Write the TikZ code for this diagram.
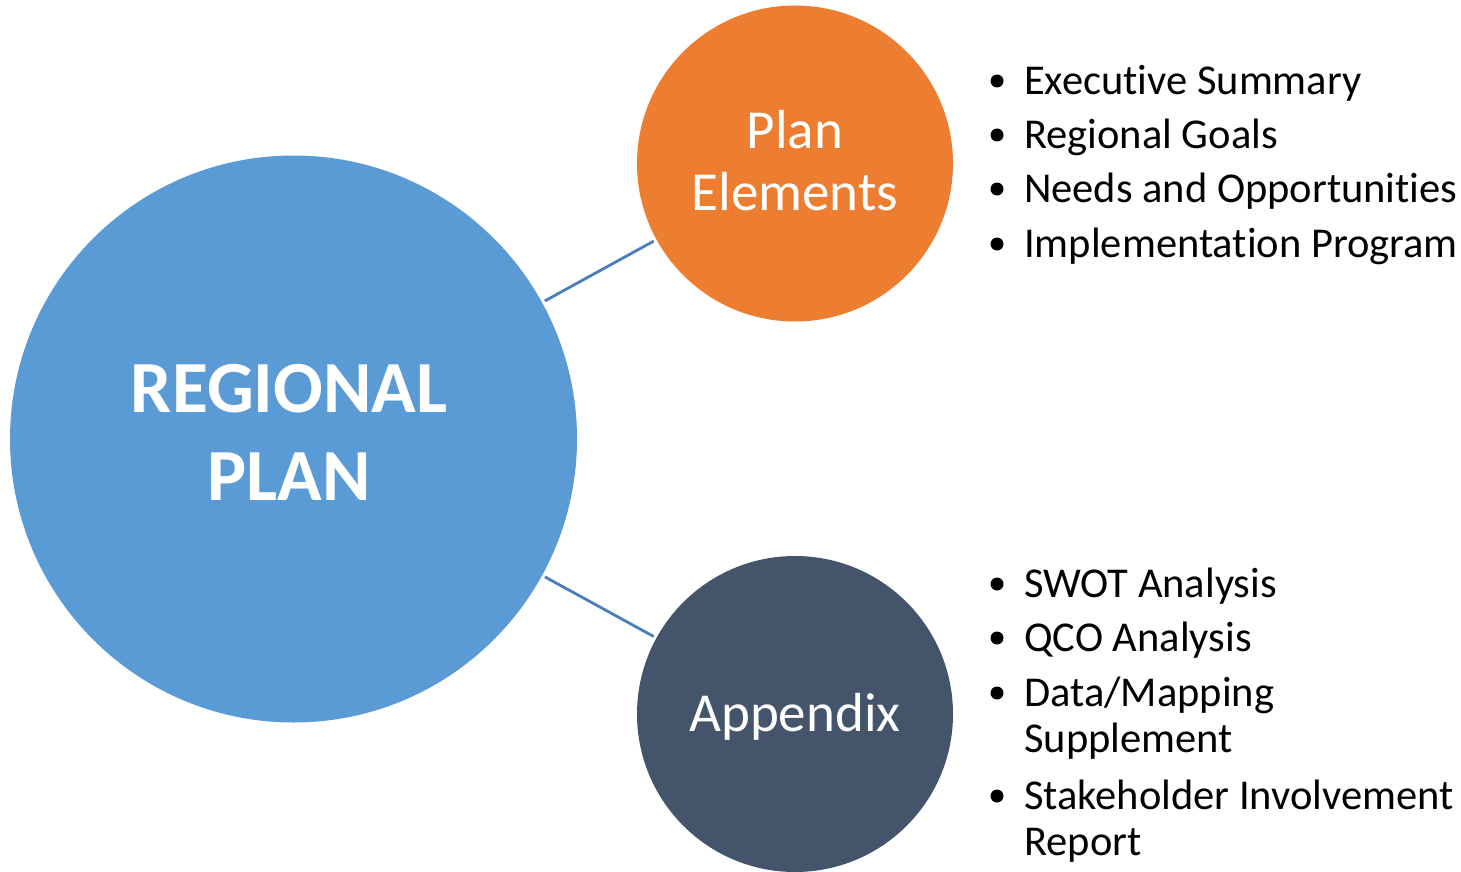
\documentclass[tikz,border=0pt]{standalone}
\usepackage{fontspec}
\setmainfont{Carlito}[Ligatures={NoCommon}]
\newcommand{\tiz}{t\kern0pt i}
\definecolor{cblue}{HTML}{5B9BD5}
\definecolor{corange}{HTML}{ED7D31}
\definecolor{cdark}{HTML}{44546A}
\definecolor{cline}{HTML}{4A7EBB}
\begin{document}
\begin{tikzpicture}[x=1pt,y=-1pt,
  bubble/.style={circle,inner sep=0pt,draw=none},
  bigtxt/.style={anchor=base,text=white,font=\fontsize{73.5}{88}\selectfont\bfseries,inner sep=0pt},
  midtxt/.style={anchor=base,text=white,font=\fontsize{55}{61}\selectfont,inner sep=0pt},
  itemtxt/.style={anchor=base west,text=black,font=\fontsize{42.5}{47}\selectfont,inner sep=0pt},
  bul/.style={circle,fill=black,inner sep=0pt,minimum size=13pt},
  link/.style={draw=cline,line width=2.8pt,shorten <=3pt,shorten >=3pt}]
\useasboundingbox (0,0) rectangle (1461,872);
\node[bubble,fill=cblue,minimum size=567pt] (rp) at (293.5,439) {};
\node[bubble,fill=corange,minimum size=316pt] (pe) at (795,163.5) {};
\node[bubble,fill=cdark,minimum size=316pt] (ap) at (795,714) {};
\draw[link] (rp) -- (pe);
\draw[link] (rp) -- (ap);
\node[bigtxt] (t1) at (289,412) {REGIONAL};
\node[bigtxt] (t2) at (289,500) {PLAN};
\node[midtxt] (t3) at (795,149) {Plan};
\node[midtxt] (t4) at (795,210) {Elements};
\node[midtxt] (t5) at (795,731) {Appendix};
% top list
\node[bul] (b1) at (997,81) {};
\node[itemtxt] (i1) at (1024,94.5) {Execu\tiz ve Summary};
\node[bul] (b2) at (997,135) {};
\node[itemtxt] (i2) at (1024,148.5) {Regional Goals};
\node[bul] (b3) at (997,189) {};
\node[itemtxt] (i3) at (1024,202.5) {Needs and Opportuni\tiz es};
\node[bul] (b4) at (997,244) {};
\node[itemtxt] (i4) at (1024,257.5) {Implementa\tiz on Program};
% bottom list
\node[bul] (b5) at (997,584) {};
\node[itemtxt] (i5) at (1024,597.5) {SWOT Analysis};
\node[bul] (b6) at (997,638) {};
\node[itemtxt] (i6) at (1024,651.5) {QCO Analysis};
\node[bul] (b7) at (997,693) {};
\node[itemtxt] (i7) at (1024,706.5) {Data/Mapping};
\node[itemtxt] (i7b) at (1024,752.5) {Supplement};
\node[bul] (b8) at (997,796) {};
\node[itemtxt] (i8) at (1024,809) {Stakeholder Involvement};
\node[itemtxt] (i8b) at (1024,855) {Report};
\end{tikzpicture}
\end{document}
